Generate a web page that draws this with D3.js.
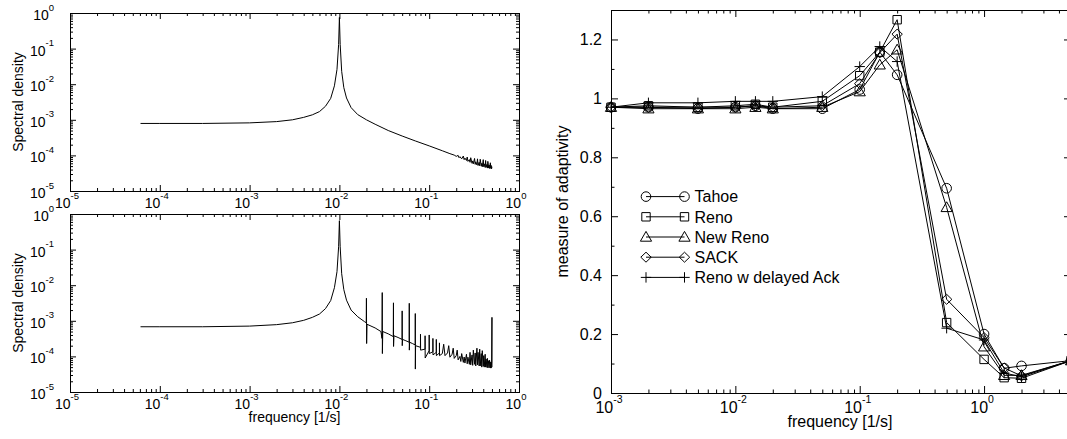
<!DOCTYPE html>
<html>
<head>
<meta charset="utf-8">
<script src="https://cdn.jsdelivr.net/npm/d3@7"></script>
<style>
  html, body { margin: 0; padding: 0; background: #fff; }
  svg { display: block; font-family: "Liberation Sans", Arial, Helvetica, sans-serif; }
</style>
</head>
<body>
<svg id="chart" width="1067" height="439"></svg>
<script>
// ---- data ----
// spectral density, top panel: [frequency, density]
const specTop = [
  [6.1e-5, 7.9e-4], [1e-4, 7.9e-4], [3e-4, 7.9e-4], [1e-3, 8.2e-4], [2e-3, 8.9e-4],
  [3e-3, 1.0e-3], [4e-3, 1.17e-3], [5e-3, 1.38e-3], [6e-3, 1.7e-3], [7e-3, 2.4e-3],
  [8e-3, 4.0e-3], [8.8e-3, 9.0e-3], [9.4e-3, 2.6e-2], [9.8e-3, 0.13], [1.0e-2, 0.75],
  [1.02e-2, 0.13], [1.06e-2, 2.3e-2], [1.12e-2, 8.0e-3], [1.2e-2, 4.1e-3], [1.35e-2, 2.2e-3],
  [1.6e-2, 1.4e-3], [2e-2, 1.0e-3], [2.5e-2, 7.5e-4], [3.5e-2, 5.0e-4], [5e-2, 3.5e-4],
  [7e-2, 2.55e-4], [0.1, 1.85e-4], [0.14, 1.35e-4], [0.17, 1.12e-4],
  [0.19, 1.02e-4], [0.20, 9.4e-5], [0.21, 1.0e-4], [0.215, 8.6e-5], [0.22, 9.2e-5],
  [0.23, 8.0e-5], [0.24, 9.6e-5], [0.245, 7.6e-5], [0.25, 8.4e-5], [0.26, 7.2e-5],
  [0.265, 9.0e-5], [0.27, 6.8e-5], [0.28, 7.6e-5], [0.285, 6.4e-5], [0.29, 8.6e-5],
  [0.30, 6.0e-5], [0.305, 7.0e-5], [0.31, 5.8e-5], [0.32, 8.2e-5], [0.325, 5.6e-5],
  [0.33, 6.6e-5], [0.34, 5.4e-5], [0.345, 8.0e-5], [0.35, 5.2e-5], [0.36, 6.4e-5],
  [0.365, 5.1e-5], [0.37, 7.8e-5], [0.38, 5.0e-5], [0.385, 6.0e-5], [0.39, 4.8e-5],
  [0.40, 7.6e-5], [0.405, 4.8e-5], [0.41, 5.8e-5], [0.42, 4.6e-5], [0.425, 7.2e-5],
  [0.43, 4.6e-5], [0.44, 5.6e-5], [0.445, 4.4e-5], [0.45, 6.8e-5], [0.46, 4.4e-5],
  [0.465, 5.4e-5], [0.47, 4.3e-5], [0.48, 6.2e-5], [0.485, 4.3e-5], [0.49, 5.2e-5],
  [0.495, 4.2e-5], [0.50, 4.8e-5]
];
// spectral density, bottom panel: [frequency, density]
const specBottom = [
  [6.1e-5, 6.8e-4], [1e-4, 6.8e-4], [3e-4, 6.8e-4], [1e-3, 7.1e-4], [2e-3, 7.8e-4],
  [3e-3, 8.8e-4], [4e-3, 1.03e-3], [5e-3, 1.25e-3], [6e-3, 1.55e-3], [7e-3, 2.2e-3],
  [8e-3, 3.7e-3], [8.8e-3, 8.5e-3], [9.4e-3, 2.4e-2], [9.8e-3, 0.12], [1.0e-2, 0.65],
  [1.02e-2, 0.12], [1.06e-2, 2.1e-2], [1.12e-2, 7.5e-3], [1.2e-2, 3.8e-3], [1.35e-2, 2.0e-3],
  [1.6e-2, 1.3e-3], [1.9e-2, 9.5e-4], [1.99e-2, 8.8e-4], [2.0e-2, 4.3e-3], [2.01e-2, 2.3e-4],
  [2.03e-2, 8.0e-4], [2.5e-2, 6.3e-4], [2.9e-2, 5.0e-4], [2.98e-2, 3.2e-4], [3.0e-2, 6.2e-3],
  [3.01e-2, 1.2e-4], [3.04e-2, 5.0e-4], [3.5e-2, 4.3e-4], [3.98e-2, 3.6e-4], [4.0e-2, 3.2e-3],
  [4.01e-2, 1.9e-4], [4.05e-2, 3.8e-4], [4.5e-2, 3.4e-4], [4.99e-2, 3.0e-4], [5.0e-2, 1.9e-3],
  [5.01e-2, 2.0e-4], [5.05e-2, 3.0e-4], [5.5e-2, 2.75e-4], [5.99e-2, 2.5e-4], [6.0e-2, 3.1e-3],
  [6.01e-2, 1.5e-4], [6.05e-2, 2.5e-4], [6.5e-2, 2.3e-4], [6.99e-2, 2.1e-4], [7.0e-2, 1.6e-3],
  [7.01e-2, 4.4e-5], [7.05e-2, 2.0e-4], [7.99e-2, 1.8e-4], [8.0e-2, 4.2e-4], [8.02e-2, 1.5e-4],
  [8.99e-2, 1.6e-4], [9.0e-2, 3.8e-4], [9.02e-2, 9.0e-5], [9.99e-2, 1.45e-4], [0.1, 4.0e-4],
  [0.1002, 1.2e-4], [0.1099, 1.35e-4], [0.11, 3.2e-4], [0.1102, 1.1e-4], [0.1199, 1.3e-4],
  [0.12, 3.0e-4], [0.1202, 1.05e-4], [0.13, 1.25e-4], [0.1301, 2.4e-4], [0.1303, 1.05e-4],
  [0.14, 1.2e-4], [0.145, 2.2e-4], [0.15, 1.05e-4], [0.16, 1.25e-4], [0.165, 2.0e-4],
  [0.17, 9.5e-5], [0.18, 1.15e-4], [0.185, 1.7e-4], [0.19, 8.8e-5], [0.20, 1.05e-4],
  [0.205, 1.5e-4], [0.21, 8.0e-5], [0.22, 1.0e-4], [0.225, 7.2e-5], [0.23, 1.2e-4],
  [0.24, 6.8e-5], [0.245, 9.6e-5], [0.25, 6.5e-5], [0.26, 1.15e-4], [0.265, 6.2e-5],
  [0.27, 9.5e-5], [0.28, 6.0e-5], [0.285, 1.3e-4], [0.29, 5.8e-5], [0.30, 1.1e-4],
  [0.305, 5.6e-5], [0.31, 1.5e-4], [0.32, 6.0e-5], [0.325, 1.25e-4], [0.33, 5.4e-5],
  [0.34, 1.7e-4], [0.345, 5.8e-5], [0.35, 1.3e-4], [0.36, 5.4e-5], [0.365, 1.6e-4],
  [0.37, 5.4e-5], [0.38, 1.2e-4], [0.385, 5.0e-5], [0.39, 1.45e-4], [0.40, 5.3e-5],
  [0.405, 1.05e-4], [0.41, 5.0e-5], [0.42, 1.15e-4], [0.425, 5.0e-5], [0.43, 8.5e-5],
  [0.44, 4.9e-5], [0.445, 8.8e-5], [0.45, 4.8e-5], [0.46, 7.6e-5], [0.465, 4.8e-5],
  [0.47, 7.8e-5], [0.48, 4.7e-5], [0.485, 7.0e-5], [0.49, 4.7e-5], [0.496, 7.0e-5],
  [0.5, 1.25e-3], [0.5, 5.0e-5]
];

// adaptivity panel
const adaptFreq   = [0.001, 0.002, 0.005, 0.01, 0.0145, 0.02, 0.05, 0.1, 0.145, 0.2, 0.5, 1, 1.45, 2, 5];
const tahoe       = [0.97, 0.97, 0.965, 0.97, 0.975, 0.965, 0.965, 1.03, 1.157, 1.08, 0.695, 0.20, 0.084, 0.092, 0.11];
const reno        = [0.97, 0.975, 0.97, 0.975, 0.98, 0.97, 0.99, 1.077, 1.157, 1.267, 0.239, 0.114, 0.052, 0.05, 0.11];
const newReno     = [0.97, 0.965, 0.965, 0.965, 0.97, 0.965, 0.97, 1.023, 1.114, 1.165, 0.63, 0.157, 0.06, 0.06, 0.11];
const sack        = [0.97, 0.97, 0.97, 0.97, 0.975, 0.97, 0.975, 1.05, 1.155, 1.218, 0.318, 0.188, 0.085, 0.058, 0.11];
const renoDelayed = [0.97, 0.985, 0.985, 0.99, 0.99, 0.99, 1.006, 1.108, 1.176, 1.125, 0.22, 0.18, 0.068, 0.055, 0.11];
const seriesNames = ["Tahoe", "Reno", "New Reno", "SACK", "Reno w delayed Ack"];
const seriesMarks = ["circle", "square", "triangle", "diamond", "plus"];

// ticks
const specExps = [-5, -4, -3, -2, -1, 0];
const adaptExps = [-3, -2, -1, 0];
const adaptYTicks = [0, 0.2, 0.4, 0.6, 0.8, 1, 1.2];
const adaptYMinor = [0.1, 0.3, 0.5, 0.7, 0.9, 1.1, 1.3];

const svg = d3.select("#chart");

function logMinor(lo, hi) {
  const out = [];
  for (let e = Math.floor(Math.log10(lo)); e <= Math.ceil(Math.log10(hi)); e++) {
    for (let m = 2; m < 10; m++) {
      const v = m * Math.pow(10, e);
      if (v > lo && v < hi * 1.0001) out.push(v);
    }
  }
  return out;
}

// inward ticks on all four sides of a box
function boxTicks(g, x, y, xVals, yVals, len, box) {
  const [x0, x1, y0, y1] = box;
  const add = (axis, tr) => g.append("g").attr("transform", tr).call(axis)
    .call(s => s.select(".domain").remove())
    .call(s => s.selectAll("text").remove());
  add(d3.axisTop(x).tickValues(xVals).tickSize(len), `translate(0,${y1})`);
  add(d3.axisBottom(x).tickValues(xVals).tickSize(len), `translate(0,${y0})`);
  add(d3.axisRight(y).tickValues(yVals).tickSize(len), `translate(${x0},0)`);
  add(d3.axisLeft(y).tickValues(yVals).tickSize(len), `translate(${x1},0)`);
}

function powLabel(g, x, y, exp, fs, sfs, raise, anchor) {
  const t = g.append("text").attr("x", x).attr("y", y)
    .attr("text-anchor", anchor).attr("font-size", fs).attr("fill", "#000");
  t.append("tspan").text("10");
  t.append("tspan").attr("font-size", sfs).attr("dy", -raise).text(String(exp));
}

function spectrumPanel(data, box, showXLabel) {
  const [x0, x1, y0, y1] = box;
  const x = d3.scaleLog().domain([1e-5, 1]).range([x0, x1]);
  const y = d3.scaleLog().domain([1e-5, 1]).range([y1, y0]);
  const g = svg.append("g");

  g.append("path")
    .datum(data)
    .attr("fill", "none")
    .attr("stroke", "#000")
    .attr("stroke-width", 1)
    .attr("d", d3.line().x(d => x(d[0])).y(d => y(d[1])));

  const majors = specExps.map(e => Math.pow(10, e));
  boxTicks(g, x, y, majors, majors, 6, box);
  boxTicks(g, x, y, logMinor(1e-5, 1), logMinor(1e-5, 1), 3, box);

  g.append("rect")
    .attr("x", x0 + 0.5).attr("y", y0 + 0.5)
    .attr("width", x1 - x0).attr("height", y1 - y0)
    .attr("fill", "none").attr("stroke", "#000");

  specExps.forEach(e => {
    powLabel(g, 54, y(Math.pow(10, e)) + 7, e, 14, 9.5, 9.5, "end");
    powLabel(g, x(Math.pow(10, e)) - 3, y1 + 17, e, 14, 9.5, 9.5, "middle");
  });

  g.append("text")
    .attr("transform", `translate(23,${(y0 + y1) / 2}) rotate(-90)`)
    .attr("text-anchor", "middle")
    .attr("font-size", 14)
    .text("Spectral density");

  if (showXLabel) {
    g.append("text")
      .attr("x", (x0 + x1) / 2).attr("y", 422)
      .attr("text-anchor", "middle")
      .attr("font-size", 14)
      .text("frequency [1/s]");
  }
}

function markerPath(type, cx, cy) {
  switch (type) {
    case "circle": {
      const r = 4.8;
      return `M${cx - r},${cy}a${r},${r} 0 1,0 ${2 * r},0a${r},${r} 0 1,0 ${-2 * r},0Z`;
    }
    case "square": {
      const h = 4.2;
      return `M${cx - h},${cy - h}h${2 * h}v${2 * h}h${-2 * h}Z`;
    }
    case "triangle": {
      const w = 5.6, up = 5.6, dn = 4.2;
      return `M${cx},${cy - up}L${cx + w},${cy + dn}L${cx - w},${cy + dn}Z`;
    }
    case "diamond": {
      const w = 5.2, h = 5;
      return `M${cx},${cy - h}L${cx + w},${cy}L${cx},${cy + h}L${cx - w},${cy}Z`;
    }
    default: {
      const a = 5.2;
      return `M${cx - a},${cy}H${cx + a}M${cx},${cy - a}V${cy + a}`;
    }
  }
}

function adaptivityPanel(box) {
  const [x0, x1, y0, y1] = box;
  const x = d3.scaleLog().domain([1e-3, 5]).range([x0, x1]);
  const y = d3.scaleLinear().domain([0, 1.3]).range([y1, y0]);
  const g = svg.append("g");
  const allSeries = [tahoe, reno, newReno, sack, renoDelayed];

  const line = d3.line().x((d, i) => x(adaptFreq[i])).y(d => y(d));
  allSeries.forEach((vals, k) => {
    g.append("path").datum(vals)
      .attr("fill", "none").attr("stroke", "#000").attr("stroke-width", 1)
      .attr("d", line);
    g.append("g").selectAll("path").data(vals).join("path")
      .attr("d", (d, i) => markerPath(seriesMarks[k], x(adaptFreq[i]), y(d)))
      .attr("fill", "none").attr("stroke", "#000").attr("stroke-width", 1);
  });

  const majorsX = adaptExps.map(e => Math.pow(10, e));
  boxTicks(g, x, y, majorsX, adaptYTicks, 7, box);
  boxTicks(g, x, y, logMinor(1e-3, 5), adaptYMinor, 3.5, box);

  g.append("rect")
    .attr("x", x0 + 0.5).attr("y", y0 + 0.5)
    .attr("width", x1 - x0).attr("height", y1 - y0)
    .attr("fill", "none").attr("stroke", "#000");

  adaptYTicks.forEach(v => {
    g.append("text")
      .attr("x", 602).attr("y", y(v) + 6)
      .attr("text-anchor", "end").attr("font-size", 16)
      .text(String(v));
  });
  adaptExps.forEach(e => {
    powLabel(g, x(Math.pow(10, e)) - 2, y1 + 19.5, e, 16, 10.5, 10, "middle");
  });

  g.append("text")
    .attr("transform", `translate(568,${(y0 + y1) / 2}) rotate(-90)`)
    .attr("text-anchor", "middle").attr("font-size", 16)
    .text("measure of adaptivity");
  g.append("text")
    .attr("x", (x0 + x1) / 2 - 1).attr("y", 427)
    .attr("text-anchor", "middle").attr("font-size", 16)
    .text("frequency [1/s]");

  // legend
  const lg = g.append("g");
  seriesNames.forEach((name, k) => {
    const ly = 196.6 + k * 20.2;
    lg.append("line")
      .attr("x1", 646).attr("x2", 684.5).attr("y1", ly).attr("y2", ly)
      .attr("stroke", "#000");
    [646, 684.5].forEach(mx => {
      lg.append("path").attr("d", markerPath(seriesMarks[k], mx, ly))
        .attr("fill", "none").attr("stroke", "#000");
    });
    lg.append("text")
      .attr("x", 694.5).attr("y", ly + 5.8)
      .attr("font-size", 16)
      .text(name);
  });
}

spectrumPanel(specTop, [70, 519, 13, 191], false);
spectrumPanel(specBottom, [70, 519, 214, 392], true);
adaptivityPanel([611, 1071, 10, 393]);
</script>
</body>
</html>
